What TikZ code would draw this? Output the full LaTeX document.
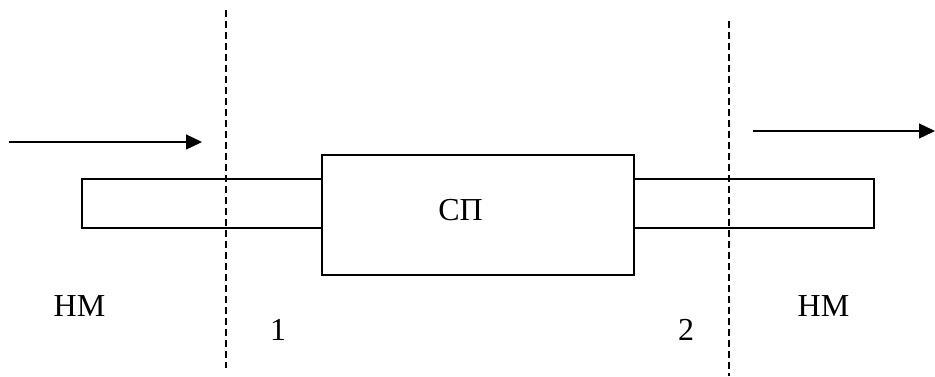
\documentclass[tikz,border=0pt]{standalone}
\usepackage{fontspec}
\setmainfont{Liberation Serif}
\usetikzlibrary{arrows.meta}
\begin{document}
\begin{tikzpicture}[x=1pt,y=-1pt,
  pipe/.style={draw,line width=1.7pt,inner sep=0pt,minimum width=240pt,minimum height=49pt},
  mainbox/.style={draw,line width=1.7pt,inner sep=0pt,minimum width=312pt,minimum height=120pt},
  label/.style={anchor=base,inner sep=0pt,font=\fontsize{32}{38}\selectfont},
  section/.style={dash pattern=on 7pt off 4pt,line width=1.6pt},
  flow/.style={line width=1.3pt,-{Triangle[length=16pt,width=15pt]}}]
  \useasboundingbox (0,0) rectangle (935,376);
  % pipes and the central block
  \node[pipe] (inpipe) at (202,203.5) {};
  \node[pipe] (outpipe) at (754,203.5) {};
  \node[mainbox] (block) at (478,215) {};
  \node[label] (blocktxt) at (460.5,220) {СП};
  % cross-section planes
  \coordinate (s1top) at (226,10);
  \coordinate (s1bot) at (226,368);
  \coordinate (s2top) at (729,21);
  \coordinate (s2bot) at (729,376);
  \draw[section] (s1top) -- (s1bot);
  \draw[section] (s2top) -- (s2bot);
  % flow direction
  \coordinate (inA) at (9,142);
  \coordinate (inB) at (202,142);
  \coordinate (outA) at (753,131);
  \coordinate (outB) at (935,131);
  \draw[flow] (inA) -- (inB);
  \draw[flow] (outA) -- (outB);
  % labels
  \node[label] (nmleft) at (79.5,316) {НМ};
  \node[label] (nmright) at (823.5,316) {НМ};
  \node[label] (one) at (278,340) {1};
  \node[label] (two) at (686,340) {2};
\end{tikzpicture}
\end{document}
